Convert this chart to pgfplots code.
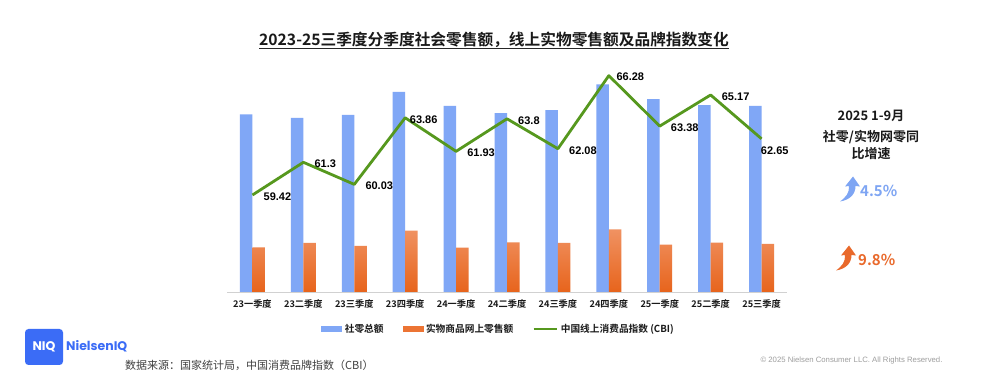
\documentclass[border=0pt]{standalone}
\usepackage{fontspec}
\setmainfont{Noto Sans CJK SC}[BoldFont={Noto Sans CJK SC Bold}]
\newfontfamily\arial{Liberation Sans}
\newfontfamily\popp{Poppins}
\usepackage{pgfplots}
\pgfplotsset{compat=1.18}
\usepackage{pgfplotstable}
\usetikzlibrary{arrows.meta}

\definecolor{barblue}{RGB}{128,167,246}
\definecolor{orangetop}{RGB}{240,146,98}
\definecolor{orangebot}{RGB}{231,100,28}
\definecolor{orangeleg}{RGB}{236,116,52}
\definecolor{cbigreen}{RGB}{86,152,30}
\definecolor{niqblue}{RGB}{59,108,246}
\definecolor{pctblue}{RGB}{126,165,243}
\definecolor{pctorange}{RGB}{233,105,43}

\pgfplotstableread{
idx retail online
0 114922 28916
1 112666 31707
2 114519 29812
3 129388 39739
4 120327 28650
5 115642 32140
6 117595 31690
7 134331 40550
8 124671 30590
9 120787 31880
10 120419 31040
}\salestable

\pgfplotstableread{
idx cbi label
0 59.42 59.42
1 61.30 61.3
2 60.03 60.03
3 63.86 63.86
4 61.93 61.93
5 63.80 63.8
6 62.08 62.08
7 66.28 66.28
8 63.38 63.38
9 65.17 65.17
10 62.65 62.65
}\cbitable

\newcommand{\cbilabel}[2]{%
  \ifnum#1=3 \hspace*{-6.5pt}#2%
  \else\ifnum#1=7 \hspace*{-3.5pt}#2%
  \else\ifnum#1=10 \hspace*{-11.8pt}\raisebox{-14pt}[0pt][0pt]{#2}%
  \else #2\fi\fi\fi}

\begin{document}
\begin{tikzpicture}[x=1pt,y=1pt]
\useasboundingbox (0,0) rectangle (999,379);
\fill[white] (0,0) rectangle (999,379);

% title
\node[inner sep=0pt, font=\bfseries\fontsize{15.7}{18}\selectfont, text=black!90] (title) at (494,339) {2023-25三季度分季度社会零售额，线上实物零售额及品牌指数变化};
\draw[line width=1.1pt, black!85] ([yshift=-3pt]title.base west) -- ([yshift=-3pt]title.base east);

% bars
\begin{axis}[
  at={(227pt,87pt)}, anchor=south west,
  scale only axis, width=560pt, height=222pt,
  ybar=0pt, bar width=12.5pt,
  xmin=-0.5, xmax=10.5, ymin=0, ymax=143567,
  axis x line=bottom, axis y line=none,
  x axis line style={-, draw=black!18, line width=0.8pt},
  xtick=data, xtick style={draw=none},
  xticklabels={23一季度,23二季度,23三季度,23四季度,24一季度,24二季度,24三季度,24四季度,25一季度,25二季度,25三季度},
  xticklabel style={font=\bfseries\fontsize{9.2}{11}\selectfont, text=black!90, yshift=-2pt},
  ytick=\empty,
  clip=false,
]
\addplot[draw=none, fill=barblue] table[x=idx, y=retail] {\salestable};
\addplot[draw=none, top color=orangetop, bottom color=orangebot] table[x=idx, y=online] {\salestable};
\end{axis}

% CBI line
\begin{axis}[
  at={(227pt,87pt)}, anchor=south west,
  scale only axis, width=560pt, height=222pt,
  xmin=-0.5, xmax=10.5, ymin=53.845, ymax=66.605,
  axis lines=none, xtick=\empty, ytick=\empty,
  clip=false,
  legend columns=3,
  legend cell align=left,
  legend style={draw=none, fill=none, at={(0.485,-0.1667)}, anchor=center,
    font=\bfseries\fontsize{9.7}{11}\selectfont, text=black!90,
    /tikz/every even column/.append style={column sep=17pt},
    /tikz/every odd column/.append style={column sep=1pt}},
]
\addlegendimage{legend image code/.code={\fill[barblue] (0pt,-2.6pt) rectangle (20pt,2.6pt);}}
\addlegendentry{社零总额}
\addlegendimage{legend image code/.code={\fill[orangeleg] (0pt,-2.6pt) rectangle (20pt,2.6pt);}}
\addlegendentry{实物商品网上零售额}
\addlegendimage{legend image code/.code={\draw[cbigreen, line width=2.5pt] (0pt,0pt) -- (23pt,0pt);}}
\addlegendentry{中国线上消费品指数 (CBI)}
\addplot[forget plot, cbigreen, line width=2.8pt, line join=round, mark=none,
  point meta=explicit symbolic,
  visualization depends on={value \coordindex \as \ci},
  nodes near coords={\cbilabel{\ci}{\pgfplotspointmeta}},
  every node near coord/.append style={anchor=west, xshift=6.5pt, yshift=-1.5pt,
    font=\arial\bfseries\fontsize{11}{13}\selectfont, text=black},
] table[x=idx, y=cbi, meta=label] {\cbitable};
\end{axis}

% right annotations
\node[font=\bfseries\fontsize{13}{15}\selectfont, text=black!90] at (871,263) {2025 1-9月};
\node[font=\bfseries\fontsize{13}{15}\selectfont, text=black!90] at (871,242) {社零/实物网零同};
\node[font=\bfseries\fontsize{13}{15}\selectfont, text=black!90] at (871,225) {比增速};

% arrows
\fill[pctblue] (840,177.5) .. controls (846,182) and (849.5,186) .. (849,193) -- (845,192.5) -- (853,202.5) -- (860,192.5) -- (855.5,193) .. controls (855.5,184) and (849,179) .. (840,177.5) -- cycle;
\begin{scope}[shift={(-4,-69)}]
\fill[pctorange] (840,177.5) .. controls (846,182) and (849.5,186) .. (849,193) -- (845,192.5) -- (853,202.5) -- (860,192.5) -- (855.5,193) .. controls (855.5,184) and (849,179) .. (840,177.5) -- cycle;
\end{scope}
\node[font=\bfseries\fontsize{15}{17}\selectfont, text=pctblue, anchor=west, inner sep=0pt] at (860,188.5) {4.5\%};
\node[font=\bfseries\fontsize{15}{17}\selectfont, text=pctorange, anchor=west, inner sep=0pt] at (858,119.5) {9.8\%};

% logo
\fill[niqblue, rounded corners=3.5pt] (25,14) rectangle (63,50);
\node[font=\popp\bfseries\fontsize{12.5}{14}\selectfont, text=white] at (44,32) {NIQ};
\node[font=\popp\bfseries\fontsize{12.5}{14}\selectfont, text=niqblue, anchor=west, inner sep=0pt] at (66,32.5) {NielsenIQ};

% source
\node[font=\fontsize{11}{12}\selectfont, text=black!75, anchor=west, inner sep=0pt] at (125,14) {数据来源：国家统计局，中国消费品牌指数（CBI）};

% copyright
\node[font=\arial\fontsize{7.75}{9}\selectfont, text=black!38] at (851.5,18) {© 2025 Nielsen Consumer LLC. All Rights Reserved.};
\end{tikzpicture}
\end{document}
